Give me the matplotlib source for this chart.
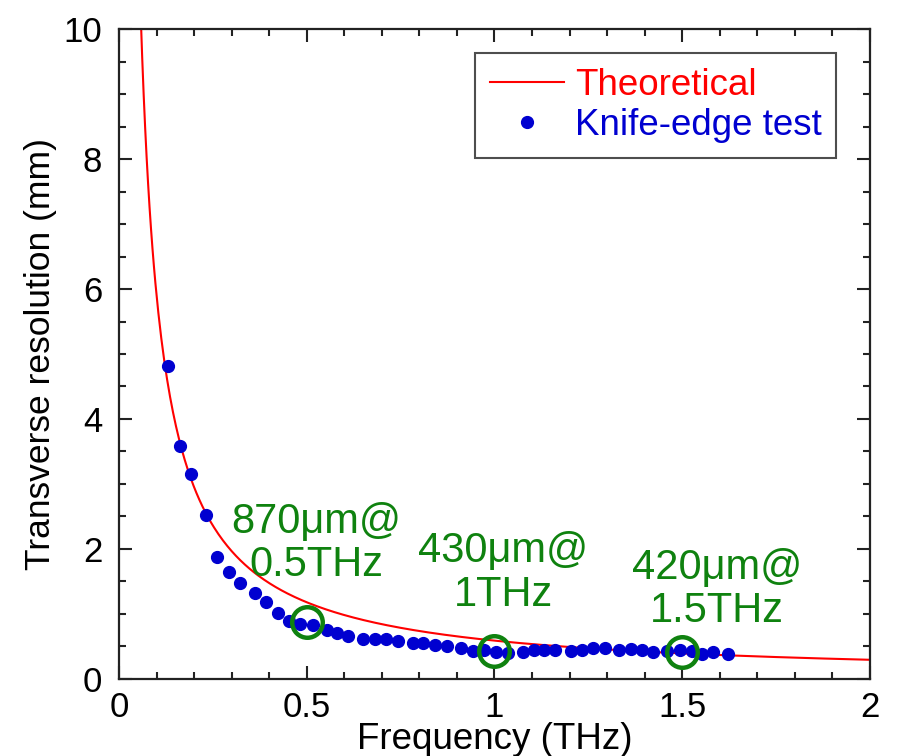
import numpy as np
import matplotlib
matplotlib.use('Agg')
import matplotlib.pyplot as plt
from matplotlib.ticker import MultipleLocator

plt.rcParams['font.family'] = ['Liberation Sans', 'DejaVu Sans']

# knife-edge measurements (THz, mm)
freq = [0.131, 0.162, 0.192, 0.232, 0.262, 0.292, 0.321, 0.362, 0.391, 0.424,
        0.452, 0.482, 0.517, 0.553, 0.581, 0.611, 0.651, 0.682, 0.711, 0.742,
        0.782, 0.810, 0.842, 0.873, 0.910, 0.942, 0.972, 1.003, 1.035, 1.075,
        1.105, 1.133, 1.161, 1.203, 1.232, 1.263, 1.294, 1.332, 1.363, 1.394,
        1.423, 1.459, 1.494, 1.525, 1.553, 1.583, 1.623]
resolution = [4.82, 3.59, 3.15, 2.53, 1.88, 1.64, 1.48, 1.32, 1.18, 1.02,
              0.89, 0.85, 0.83, 0.75, 0.70, 0.66, 0.62, 0.62, 0.61, 0.59,
              0.56, 0.55, 0.52, 0.50, 0.47, 0.43, 0.44, 0.41, 0.40, 0.41,
              0.44, 0.44, 0.45, 0.43, 0.44, 0.47, 0.48, 0.45, 0.46, 0.45,
              0.42, 0.43, 0.45, 0.43, 0.38, 0.41, 0.39]

# theoretical resolution ~ k / f  (mm * THz)
k_theory = 0.59

# highlighted points: (THz, mm, label)
mark_freq = [0.5, 1.0, 1.5]
mark_res = [0.87, 0.43, 0.42]
mark_text = [u'870\u03bcm@\n0.5THz', u'430\u03bcm@\n1THz', u'420\u03bcm@\n1.5THz']
text_pos = [(0.525, 2.09), (1.023, 1.63), (1.593, 1.38)]

green = '#0f820f'

fig = plt.figure(figsize=(8.99, 7.56), dpi=100)
ax = fig.add_axes([0.1324, 0.1019, 0.8353, 0.8597])

f = np.linspace(0.05, 2.0, 500)
ax.plot(f, k_theory / f, color='red', lw=1.5, label='Theoretical')
ax.plot(freq, resolution, ls='None', marker='o', ms=8.5, color='#0000d0',
        label='Knife-edge test')

ax.plot(mark_freq, mark_res, ls='None', marker='o', ms=22, mfc='none',
        mec=green, mew=3.2)
for (tx, ty), txt in zip(text_pos, mark_text):
    ax.text(tx, ty, txt, color=green, fontsize=30, ha='center', va='center',
            linespacing=1.1)

ax.set_xlim(0, 2)
ax.set_ylim(0, 10)
ax.xaxis.set_major_locator(MultipleLocator(0.5))
ax.xaxis.set_minor_locator(MultipleLocator(0.1))
ax.yaxis.set_major_locator(MultipleLocator(2))
ax.yaxis.set_minor_locator(MultipleLocator(0.5))
ax.set_xticks([0, 0.5, 1, 1.5, 2])
ax.set_xticklabels(['0', '0.5', '1', '1.5', '2'])

ax.tick_params(which='both', direction='in', top=True, right=True,
               width=1.5, color='#222222', labelsize=25)
ax.tick_params(which='major', length=9.5)
ax.tick_params(which='minor', length=5)
ax.tick_params(axis='x', pad=9)
ax.tick_params(axis='y', pad=12)
for sp in ax.spines.values():
    sp.set_linewidth(1.6)
    sp.set_color('#222222')

ax.set_xlabel('Frequency (THz)', fontsize=26.5, labelpad=-2)
ax.set_ylabel('Transverse resolution (mm)', fontsize=25.5, labelpad=5)

leg = ax.legend(loc='upper right', bbox_to_anchor=(0.955, 0.963),
                fontsize=26.5, frameon=True, fancybox=False, edgecolor='#222222',
                handlelength=2.0, handletextpad=0.3, borderpad=0.4,
                labelspacing=0.15, borderaxespad=0)
leg.get_frame().set_linewidth(1.5)
for txt, col in zip(leg.get_texts(), ['red', '#0000d0']):
    txt.set_color(col)

fig.savefig('out.png', dpi=100)
